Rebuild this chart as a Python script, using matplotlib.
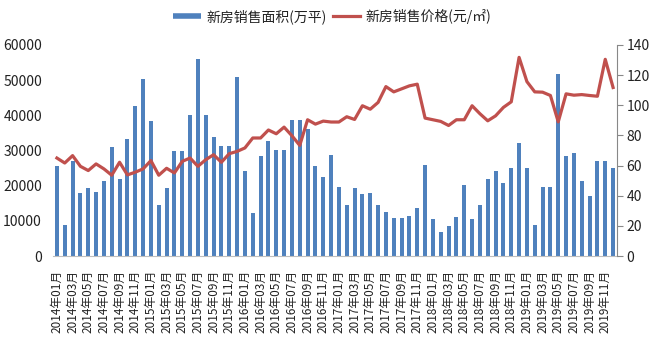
import matplotlib
matplotlib.use('Agg')
import matplotlib.pyplot as plt
from matplotlib.lines import Line2D

plt.rcParams['font.family'] = ['Noto Sans CJK SC', 'DejaVu Sans']

months = ['%d年%02d月' % (y, m) for y in range(2014, 2020) for m in range(1, 13)]

# 新房销售面积(万平)
area = [25500, 8700, 27100, 17900, 19200, 18300, 21400, 31100, 22000, 33400, 42700, 50400,
        38500, 14500, 19200, 30000, 30000, 40000, 56100, 40100, 33700, 31200, 31200, 50900,
        24300, 12200, 28300, 32800, 30200, 30200, 38700, 38700, 36200, 25700, 22600, 28800,
        19500, 14600, 19200, 17500, 17800, 14400, 12400, 10700, 10700, 11500, 13700, 26000,
        10400, 6700, 8400, 11100, 20300, 10400, 14400, 22000, 24300, 20900, 24900, 32100,
        24900, 8700, 19700, 19700, 51800, 28300, 29400, 21400, 17200, 27100, 27100, 25100]

# 新房销售价格(元/㎡)
price = [65.0, 61.7, 66.6, 59.5, 56.7, 61.1, 57.8, 53.6, 62.2, 53.8, 55.6, 57.8,
         63.3, 53.6, 58.2, 55.1, 62.8, 65.0, 59.5, 63.9, 67.2, 62.2, 67.9, 69.4,
         71.7, 78.3, 78.3, 83.6, 81.1, 85.5, 79.8, 73.4, 90.4, 87.5, 89.5, 88.9,
         88.9, 92.4, 90.6, 99.7, 97.4, 101.9, 112.4, 108.9, 110.9, 112.9, 114.0, 91.5,
         90.4, 89.3, 86.6, 90.4, 90.4, 99.7, 94.4, 89.7, 93.0, 98.6, 102.3, 131.8,
         115.7, 108.9, 108.7, 106.5, 89.0, 107.6, 106.7, 107.1, 106.5, 106.0, 130.5, 111.8]

blue = '#4F81BD'
red = '#C0504D'
txt = '#222222'

fig = plt.figure(figsize=(6.65, 3.45), dpi=100)
ax = fig.add_axes([53 / 665, 1 - 256 / 345, 564 / 665, 211 / 345])
ax2 = ax.twinx()

x = list(range(len(months)))
ax.bar(x, area, width=0.5, color=blue, zorder=2)
ax2.plot(x, price, color=red, linewidth=2.3, solid_joinstyle='round', zorder=3)

ax.set_xlim(-0.5, len(months) - 0.5)
ax.set_ylim(0, 60000)
ax2.set_ylim(0, 140)
ax.set_yticks(range(0, 60001, 10000))
ax2.set_yticks(range(0, 141, 20))
ax.set_xticks(x[::2])
ax.set_xticklabels(months[::2], rotation=90, fontsize=8.5, color=txt)

for s in ['top', 'left', 'right']:
    ax.spines[s].set_visible(False)
    ax2.spines[s].set_visible(False)
ax2.spines['bottom'].set_visible(False)
ax.spines['bottom'].set_color('#BFBFBF')
ax2.spines['right'].set_visible(True)
ax2.spines['right'].set_color('#888888')

ax.tick_params(axis='x', length=0, pad=10)
ax.tick_params(axis='y', length=0, pad=8, labelsize=10, labelcolor=txt)
ax2.tick_params(axis='y', length=4, width=0.8, color='#888888', pad=3,
                labelsize=10, labelcolor=txt)

handles = [Line2D([0], [0], color=blue, linewidth=4, solid_capstyle='butt'),
           Line2D([0], [0], color=red, linewidth=2.3)]
labels = ['新房销售面积(万平)', '新房销售价格(元/㎡)']
fig.legend(handles, labels, loc='center', bbox_to_anchor=(0.5, 0.953), ncol=2,
           frameon=False, fontsize=10, handlelength=2.0, handletextpad=0.4,
           columnspacing=0.4, labelcolor=txt)

fig.savefig('out.png', dpi=100)
